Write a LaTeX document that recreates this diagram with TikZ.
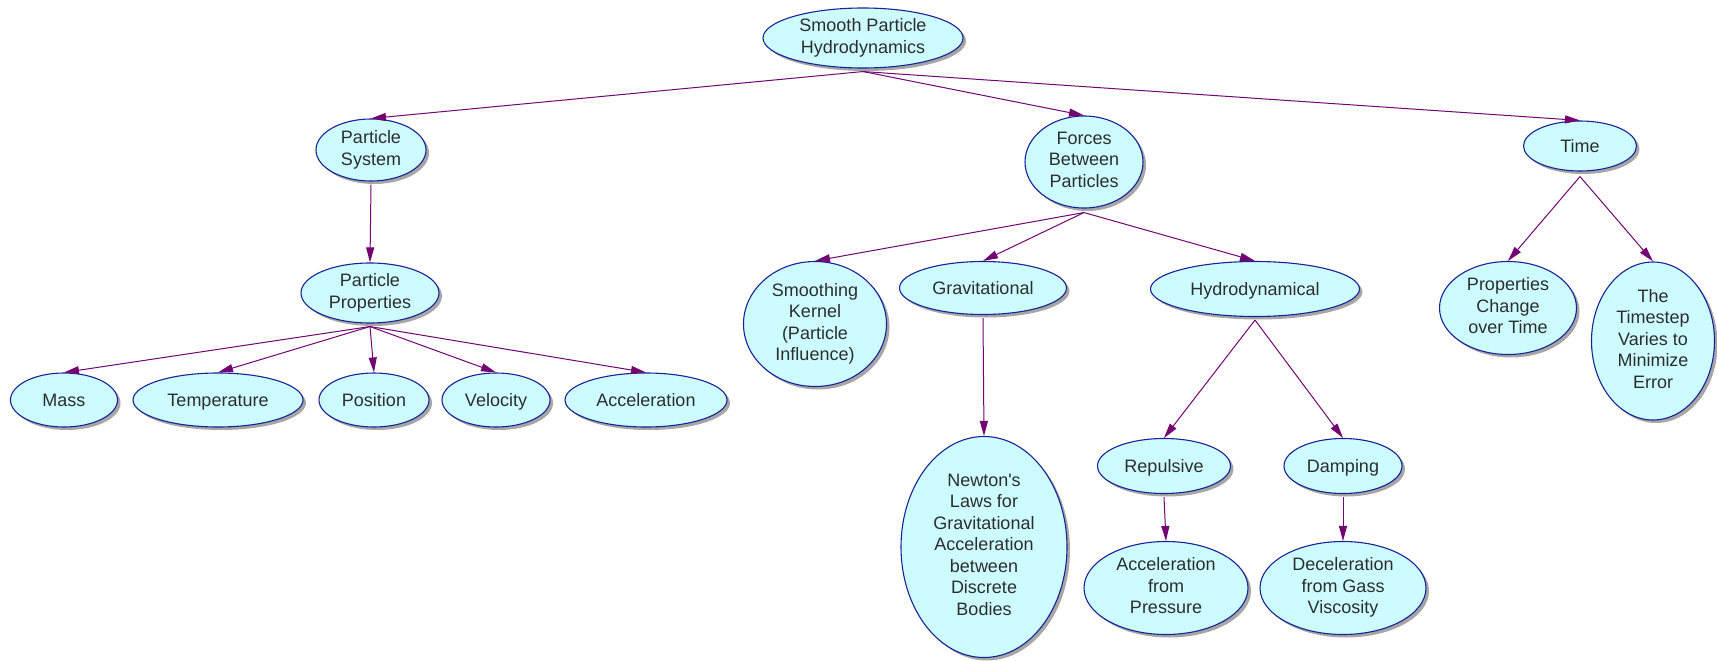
\documentclass[tikz,border=0pt]{standalone}
\usepackage{fontspec}
\setmainfont{Liberation Sans}
\usetikzlibrary{shapes.geometric,arrows.meta,shadows}
\definecolor{bubfill}{RGB}{204,252,255}
\definecolor{bubline}{RGB}{25,35,150}
\definecolor{linkcol}{RGB}{115,5,115}
\definecolor{txt}{RGB}{45,45,45}
\begin{document}
\begin{tikzpicture}[x=1pt,y=-1pt,
  bub/.style={ellipse, draw=bubline, line width=1.1pt, fill=bubfill, inner sep=0pt,
    drop shadow={shadow xshift=3pt, shadow yshift=-3pt, fill=black, opacity=0.35}},
  lab/.style={align=center, inner sep=0pt, font=\fontsize{18}{21.5}\selectfont, text=txt,
    execute at begin node=\rule[-4.5pt]{0pt}{22pt}, execute at end node=\rule[-4.5pt]{0pt}{22pt}},
  link/.style={draw=linkcol, line width=1pt, -{Triangle[length=15pt,width=8pt]}}]
\fill[white] (0,0) rectangle (1717,661);
\useasboundingbox (0,0) rectangle (1717,661);

\node[bub, minimum width=200pt, minimum height=60pt, label={[lab]center:Smooth Particle\\Hydrodynamics}] (root) at (863,38) {};
\node[bub, minimum width=110pt, minimum height=62pt, label={[lab]center:Particle\\System}] (psys) at (371,150) {};
\node[bub, minimum width=118pt, minimum height=92pt, label={[lab]center:Forces\\Between\\Particles}] (forces) at (1084,162) {};
\node[bub, minimum width=113pt, minimum height=50pt, label={[lab]center:Time}] (time) at (1580,146) {};

\node[bub, minimum width=138pt, minimum height=60pt, label={[lab]center:Particle\\Properties}] (pprop) at (370,293) {};
\node[bub, minimum width=107pt, minimum height=54pt, label={[lab]center:Mass}] (mass) at (64,400) {};
\node[bub, minimum width=170pt, minimum height=54pt, label={[lab]center:Temperature}] (temp) at (218,400) {};
\node[bub, minimum width=110pt, minimum height=54pt, label={[lab]center:Position}] (pos) at (374,400) {};
\node[bub, minimum width=108pt, minimum height=54pt, label={[lab]center:Velocity}] (vel) at (496,400) {};
\node[bub, minimum width=162pt, minimum height=54pt, label={[lab]center:Acceleration}] (acc) at (646,400) {};

\node[bub, minimum width=143pt, minimum height=125pt, label={[lab]center:Smoothing\\Kernel\\(Particle\\Influence)}] (smooth) at (815,324) {};
\node[bub, minimum width=167pt, minimum height=53pt, label={[lab]center:Gravitational}] (grav) at (983,288) {};
\node[bub, minimum width=209pt, minimum height=55pt, label={[lab]center:Hydrodynamical}] (hydro) at (1255,289) {};
\node[bub, minimum width=166pt, minimum height=221pt, label={[lab]center:Newton\textquotesingle s\\Laws for\\Gravitational\\Acceleration\\between\\Discrete\\Bodies}] (newton) at (984,547) {};
\node[bub, minimum width=133pt, minimum height=55pt, label={[lab]center:Repulsive}] (rep) at (1164,466) {};
\node[bub, minimum width=118pt, minimum height=55pt, label={[lab]center:Damping}] (damp) at (1343,466) {};
\node[bub, minimum width=164pt, minimum height=93pt, label={[lab]center:Acceleration\\from\\Pressure}] (accp) at (1166,588) {};
\node[bub, minimum width=166pt, minimum height=93pt, label={[lab]center:Deceleration\\from Gass\\Viscosity}] (decel) at (1343,588) {};

\node[bub, minimum width=137pt, minimum height=93pt, label={[lab]center:Properties\\Change\\over Time}] (pcot) at (1508,308) {};
\node[bub, minimum width=123pt, minimum height=158pt, label={[lab]center:The\\Timestep\\Varies to\\Minimize\\Error}] (tstep) at (1653,341) {};

\draw[link] ([yshift=-3pt]root.south) -- (psys.north);
\draw[link] ([yshift=-3pt]root.south) -- (forces.north);
\draw[link] ([yshift=-3pt]root.south) -- (time.north);
\draw[link] ([yshift=-3pt]psys.south) -- (pprop.north);
\foreach \c in {mass,temp,pos,vel,acc}
  \draw[link] ([yshift=-3pt]pprop.south) -- (\c.north);
\foreach \c in {smooth,grav,hydro}
  \draw[link] ([yshift=-4pt]forces.south) -- (\c.north);
\draw[link] ([yshift=-3pt]grav.south) -- (newton.north);
\draw[link] ([yshift=-3pt]hydro.south) -- (rep.north);
\draw[link] ([yshift=-3pt]hydro.south) -- (damp.north);
\draw[link] ([yshift=-3pt]rep.south) -- (accp.north);
\draw[link] ([yshift=-3pt]damp.south) -- (decel.north);
\draw[link] ([yshift=-5pt]time.south) -- (pcot.north);
\draw[link] ([yshift=-5pt]time.south) -- (tstep.north);
\end{tikzpicture}
\end{document}
